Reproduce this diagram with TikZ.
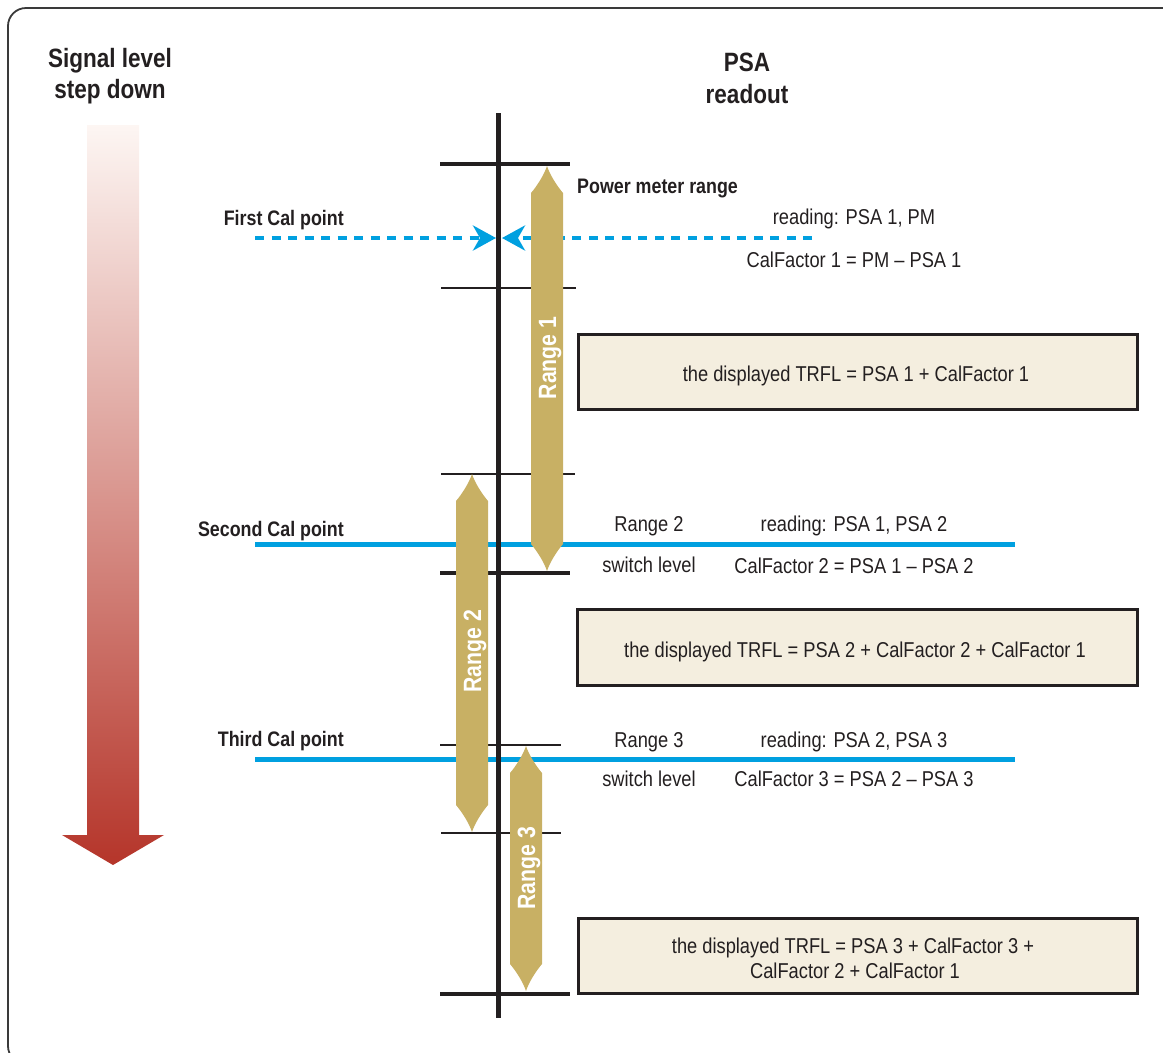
\documentclass[tikz,border=0pt]{standalone}
\usepackage{fontspec}
\setmainfont{Liberation Sans}[FakeStretch=0.85]
\usetikzlibrary{arrows.meta}
\definecolor{ink}{HTML}{231F20}
\definecolor{calblue}{HTML}{00A0E0}
\definecolor{bartan}{HTML}{C8B064}
\definecolor{boxfill}{HTML}{F4EEDF}
\definecolor{framegray}{HTML}{3A3A3A}
\definecolor{redtop}{HTML}{FDF6F3}
\definecolor{redmid}{HTML}{DC937E}
\definecolor{redbot}{HTML}{B5352A}
\newcommand{\rangebar}[3]{%
  \fill[bartan] (#1,#2+27) .. controls (#1+6,#2+20) and (#1+13,#2+9) .. (#1+16,#2)
     .. controls (#1+19,#2+9) and (#1+26,#2+20) .. (#1+32,#2+27)
     -- (#1+32,#3-27) .. controls (#1+26,#3-20) and (#1+19,#3-9) .. (#1+16,#3)
     .. controls (#1+13,#3-9) and (#1+6,#3-20) .. (#1,#3-27) -- cycle;}
\tikzset{
  lbl/.style={font=\fontsize{21.5}{25}\selectfont, text=ink, inner sep=0pt},
  blbl/.style={font=\bfseries\fontsize{21}{25}\selectfont, text=ink, inner sep=0pt},
  head/.style={font=\bfseries\fontsize{26.5}{31}\selectfont, text=ink, inner sep=0pt},
  rlbl/.style={font=\bfseries\fontsize{25}{30}\selectfont, text=white, inner sep=0pt,
               rotate=90, text height=18pt, text depth=0pt},
  calbox/.style={draw=ink, line width=3pt, fill=boxfill, inner sep=0pt},
  thicktick/.style={ink, line width=4.5pt},
  thintick/.style={ink, line width=2.2pt},
  calline/.style={calblue, line width=5pt},
  calarrow/.style={calblue, line width=4.5pt, dash pattern=on 9pt off 7.5pt,
               -{Stealth[length=23pt, width=25pt, inset=7pt]}},
}
\begin{document}
\begin{tikzpicture}[x=1pt,y=-1pt]
\useasboundingbox (0,0) rectangle (1163,1053);
\clip (0,0) rectangle (1163,1053);
% frame
\draw[framegray, line width=1.8pt, rounded corners=18pt] (8,8) rectangle (1200,1064);
% gradient arrow
\shade[top color=redtop, middle color=redmid, bottom color=redbot]
  (87,125) -- (139,125) -- (139,835) -- (164,835) -- (113,865) -- (62,835) -- (87,835) -- cycle;
% headings
\node[head, anchor=base] (sig1) at (110,67) {Signal level};
\node[head, anchor=base] (sig2) at (110,98) {step down};
\node[head, anchor=base] (psa1) at (747,71) {PSA};
\node[head, anchor=base] (psa2) at (747,103) {readout};
% cal lines
\coordinate (fcL) at (255,238);
\coordinate (fcTipL) at (496,238);
\coordinate (fcR) at (812,238);
\coordinate (fcTipR) at (502,238);
\draw[calarrow] (fcL) -- (fcTipL);
\draw[calarrow] (fcR) -- (fcTipR);
\coordinate (scL) at (255,544);
\coordinate (scR) at (1015,544);
\coordinate (tcL) at (255,759);
\coordinate (tcR) at (1015,759);
\draw[calline] (scL) -- (scR);
\draw[calline] (tcL) -- (tcR);
% ticks
\draw[thicktick] (440,164) -- (570,164);
\draw[thintick] (441,288) -- (576,288);
\draw[thintick] (441,474) -- (575,474);
\draw[thicktick] (440,573) -- (570,573);
\draw[thintick] (440,745) -- (561,745);
\draw[thintick] (441,833) -- (561,833);
\draw[thicktick] (440,994) -- (570,994);
% vertical axis
\coordinate (axTop) at (498,113);
\coordinate (axBot) at (498,1018);
\draw[ink, line width=5pt] (axTop) -- (axBot);
% range bars
\rangebar{531}{166}{571}
\rangebar{456}{474}{832}
\rangebar{510}{746}{991}
\node[rlbl] (rg1) at (547,358) {Range 1};
\node[rlbl] (rg2) at (472,651) {Range 2};
\node[rlbl] (rg3) at (526,868) {Range 3};
% labels
\node[blbl, anchor=base west] (pmr) at (577,193) {Power meter range};
\node[blbl, anchor=base east] (cal1) at (344,225) {First Cal point};
\node[blbl, anchor=base east] (cal2) at (344,536) {Second Cal point};
\node[blbl, anchor=base east] (cal3) at (344,746) {Third Cal point};
\node[lbl, anchor=base] (rd1) at (854,224) {reading: PSA 1, PM};
\node[lbl, anchor=base] (cf1) at (854,267) {CalFactor 1 = PM – PSA 1};
\node[lbl, anchor=base] (r2) at (649,531) {Range 2};
\node[lbl, anchor=base] (sw2) at (649,572) {switch level};
\node[lbl, anchor=base] (rd2) at (854,531) {reading: PSA 1, PSA 2};
\node[lbl, anchor=base] (cf2) at (854,573) {CalFactor 2 = PSA 1 – PSA 2};
\node[lbl, anchor=base] (r3) at (649,747) {Range 3};
\node[lbl, anchor=base] (sw3) at (649,786) {switch level};
\node[lbl, anchor=base] (rd3) at (854,747) {reading: PSA 2, PSA 3};
\node[lbl, anchor=base] (cf3) at (854,786) {CalFactor 3 = PSA 2 – PSA 3};
% boxes
\node[calbox, minimum width=559pt, minimum height=75pt] (box1) at (858,372) {};
\node[lbl, anchor=base] (bt1) at (856,381) {the displayed TRFL = PSA 1 + CalFactor 1};
\node[calbox, minimum width=560pt, minimum height=76pt] (box2) at (857.5,647.5) {};
\node[lbl, anchor=base] (bt2) at (855,657) {the displayed TRFL = PSA 2 + CalFactor 2 + CalFactor 1};
\node[calbox, minimum width=559pt, minimum height=75pt] (box3) at (858,956) {};
\node[lbl, anchor=base] (bt3a) at (853,953) {the displayed TRFL = PSA 3 + CalFactor 3 +};
\node[lbl, anchor=base] (bt3b) at (855,978) {CalFactor 2 + CalFactor 1};
\end{tikzpicture}
\end{document}
